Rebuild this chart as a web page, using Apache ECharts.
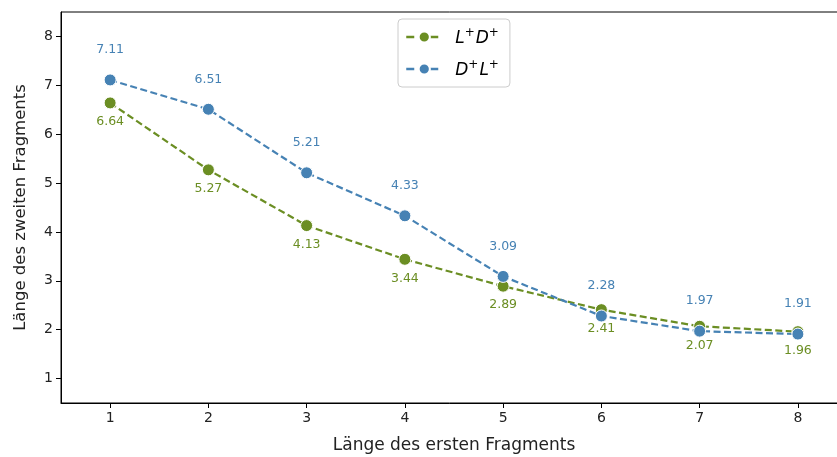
<!DOCTYPE html>
<html>
<head>
<meta charset="utf-8">
<script src="https://cdn.jsdelivr.net/npm/echarts@6/dist/echarts.min.js"></script>
<style>
  html, body { margin: 0; padding: 0; background: #fff; }
  #chart { width: 837px; height: 457px; }
</style>
</head>
<body>
<div id="chart"></div>
<script>
// Length of the first fragment (x) and mean length of the second fragment (y)
const firstLength = [1, 2, 3, 4, 5, 6, 7, 8];
const ldValues = [6.64, 5.27, 4.13, 3.44, 2.89, 2.41, 2.07, 1.96];
const dlValues = [7.11, 6.51, 5.21, 4.33, 3.09, 2.28, 1.97, 1.91];
const ldName = 'L+D+';
const dlName = 'D+L+';
const yTicks = [1, 2, 3, 4, 5, 6, 7, 8];

const olive = '#6b8e23';
const steel = '#4682b4';
const font = 'DejaVu Sans';

const pairs = vals => firstLength.map((x, i) => [x, vals[i]]);

// white outline beneath each dashed line
function halo(vals) {
  return {
    type: 'line', data: pairs(vals), silent: true, symbol: 'none',
    lineStyle: { color: '#fff', width: 5.5, opacity: 0.85 },
    z: 1, legendHoverLink: false
  };
}

function main(name, vals, color, pos, dist) {
  return {
    name, type: 'line', data: pairs(vals),
    symbol: 'circle', symbolSize: 12,
    lineStyle: { color, width: 2.2, type: [7, 3.5] },
    itemStyle: { color, borderColor: '#fff', borderWidth: 1 },
    label: {
      show: true, position: pos, distance: dist, color,
      fontFamily: font, fontSize: 12.5,
      formatter: p => p.value[1].toFixed(2)
    },
    z: 3
  };
}

// "L+D+" -> italic letters with raised plus signs
function legendText(name) {
  return name.replace(/([A-Z])\+/g, '{i|$1}{sup|+}');
}

const legendLine = color => ({ color, width: 2.5, type: [8, 4] });

const chart = echarts.init(document.getElementById('chart'), null, { renderer: 'canvas' });
chart.setOption({
  animation: false,
  textStyle: { fontFamily: font },
  grid: {
    left: 61, top: 12, right: -10, bottom: 54,
    outerBoundsMode: 'none', containLabel: false,
    show: true, borderColor: '#000', borderWidth: 1, backgroundColor: 'transparent'
  },
  legend: {
    data: [
      { name: ldName, lineStyle: legendLine(olive) },
      { name: dlName, lineStyle: legendLine(steel) }
    ],
    orient: 'vertical',
    left: 398, top: 19,
    itemWidth: 36, itemHeight: 14, itemGap: 12,
    padding: [8, 10, 8, 7],
    borderColor: '#ccc', borderWidth: 1, borderRadius: 4,
    backgroundColor: '#fff',
    formatter: legendText,
    textStyle: {
      fontFamily: font, color: '#000', padding: [0, 0, 0, 8],
      rich: {
        i: { fontFamily: font, fontSize: 17, fontStyle: 'italic', color: '#000', lineHeight: 20, verticalAlign: 'bottom' },
        sup: { fontFamily: font, fontSize: 12, color: '#000', lineHeight: 20, verticalAlign: 'top', padding: [0, 1, 0, 0] }
      }
    }
  },
  xAxis: {
    type: 'value', min: 0.5, max: 8.5, interval: 0.5,
    name: 'Länge des ersten Fragments', nameLocation: 'middle', nameGap: 34,
    nameTextStyle: { fontFamily: font, fontSize: 17, color: '#222' },
    axisLine: { lineStyle: { color: '#000' } },
    axisTick: { length: 5, lineStyle: { color: '#000' }, customValues: firstLength },
    axisLabel: {
      fontFamily: font, fontSize: 14, color: '#222', margin: 8,
      customValues: firstLength, formatter: v => String(v)
    },
    splitLine: { show: false }
  },
  yAxis: {
    type: 'value', min: 0.5, max: 8.5, interval: 0.5,
    name: 'Länge des zweiten Fragments', nameLocation: 'middle', nameGap: 32,
    nameTextStyle: { fontFamily: font, fontSize: 16.5, color: '#222' },
    axisLine: { show: true, lineStyle: { color: '#000' } },
    axisTick: { show: true, length: 5, lineStyle: { color: '#000' }, customValues: yTicks },
    axisLabel: {
      fontFamily: font, fontSize: 14, color: '#222', margin: 8,
      customValues: yTicks, formatter: v => String(v)
    },
    splitLine: { show: false }
  },
  series: [
    halo(ldValues),
    halo(dlValues),
    main(ldName, ldValues, olive, 'bottom', 6),
    main(dlName, dlValues, steel, 'top', 17)
  ]
});
</script>
</body>
</html>
